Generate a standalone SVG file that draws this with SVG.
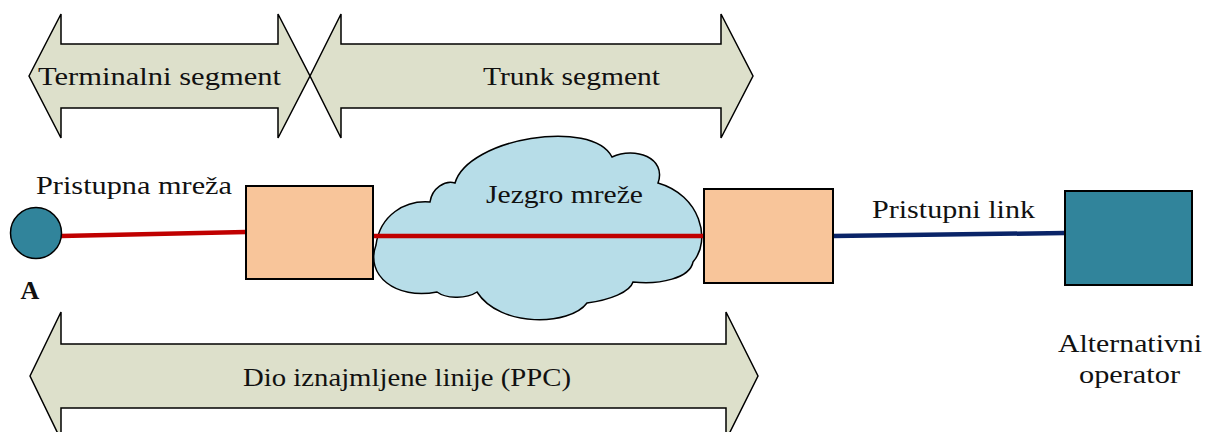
<svg xmlns="http://www.w3.org/2000/svg" width="1205" height="432" viewBox="0 0 1205 432">
<style>
.arr{fill:#DDE0CB;stroke:#000;stroke-width:1.5;stroke-linejoin:miter}
.box{fill:#F8C59A;stroke:#000;stroke-width:2}
.t{font-family:"Liberation Serif","Times New Roman",serif;fill:#111;font-size:26px}
.link{fill:none;stroke-width:4.5;stroke-linecap:round}
</style>
<rect width="1205" height="432" fill="#fff"/>
<g id="terminal-segment">
<path class="arr" d="M29,76 L61,14 L61,44 L278,44 L278,14 L310,76 L278,138 L278,108 L61,108 L61,138 Z"/>
<text class="t" x="38" y="85" textLength="243" lengthAdjust="spacingAndGlyphs">Terminalni segment</text>
</g>
<g id="trunk-segment">
<path class="arr" d="M310,76 L341,14 L341,44 L721,44 L721,14 L753,76 L721,138 L721,108 L341,108 L341,138 Z"/>
<text class="t" x="483" y="85" textLength="177" lengthAdjust="spacingAndGlyphs">Trunk segment</text>
</g>
<g id="leased-line">
<path class="arr" d="M30,376 L61,312 L61,344 L726,344 L726,312 L758,376 L726,440 L726,408 L61,408 L61,440 Z"/>
<text class="t" x="243" y="386" textLength="328" lengthAdjust="spacingAndGlyphs">Dio iznajmljene linije (PPC)</text>
</g>
<g id="core-network">
<path d="M437,292 C395,300 365,275 376,245 C380,215 405,200 430,202 C432,188 445,180 455,183 C468,138 592,118 612,157 C635,146 667,158 658,183 C700,195 712,240 693,262 C690,278 660,285 633,282 C630,292 610,300 587,303 C570,326 500,328 477,292 C465,300 445,298 437,292 Z" fill="#B7DDE8" stroke="#000" stroke-width="1.5"/>
<text class="t" x="486" y="203" textLength="157" lengthAdjust="spacingAndGlyphs">Jezgro mreže</text>
</g>
<g id="connectors">
<line class="link" x1="61" y1="236" x2="246" y2="232" stroke="#C00000"/>
<line class="link" x1="373" y1="236" x2="703" y2="236" stroke="#C00000"/>
<line class="link" x1="833" y1="236" x2="1065" y2="233" stroke="#0A2468"/>
</g>
<g id="node-a">
<circle cx="36" cy="233" r="25.5" fill="#31849B" stroke="#000" stroke-width="1.5"/>
<text class="t" x="30" y="299" text-anchor="middle" style="font-weight:bold">A</text>
<text class="t" x="36" y="194" textLength="196" lengthAdjust="spacingAndGlyphs">Pristupna mreža</text>
</g>
<g id="edge-node-1">
<rect class="box" x="246" y="186" width="127" height="93"/>
</g>
<g id="edge-node-2">
<rect class="box" x="704" y="189" width="129" height="94"/>
</g>
<g id="alt-operator">
<rect x="1065" y="191" width="127" height="94" fill="#31849B" stroke="#000" stroke-width="2"/>
<text class="t" x="872" y="218" textLength="163" lengthAdjust="spacingAndGlyphs">Pristupni link</text>
<text class="t" x="1058" y="352" textLength="144" lengthAdjust="spacingAndGlyphs">Alternativni</text>
<text class="t" x="1079" y="383" textLength="101" lengthAdjust="spacingAndGlyphs">operator</text>
</g>
</svg>
